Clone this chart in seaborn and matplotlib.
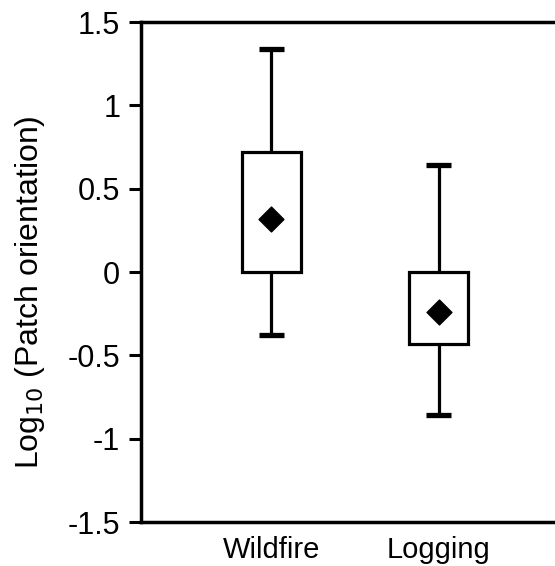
import numpy as np
import pandas as pd
import matplotlib
matplotlib.use("Agg")
import matplotlib.pyplot as plt
import seaborn as sns

# values
groups = ["Wildfire", "Logging"]
whisker_low = [-0.38, -0.86]
q1 = [0.0, -0.43]
q3 = [0.72, 0.0]
whisker_high = [1.34, 0.64]
means = [0.32, -0.24]

# five points per group give exactly these quartiles / extremes
rows = []
for g, lo, a, b, hi in zip(groups, whisker_low, q1, q3, whisker_high):
    for v in [lo, a, (a + b) / 2, b, hi]:
        rows.append({"group": g, "value": v})
df = pd.DataFrame(rows)
df_mean = pd.DataFrame({"group": groups, "value": means})

sns.set_style("white")
plt.rcParams["font.family"] = ["Liberation Sans", "DejaVu Sans"]
plt.rcParams["text.color"] = "black"
plt.rcParams["axes.labelcolor"] = "black"
plt.rcParams["xtick.color"] = "black"
plt.rcParams["ytick.color"] = "black"

fig = plt.figure(figsize=(5.55, 5.66), dpi=100)
ax = fig.add_axes([141 / 555, 44 / 566, 1 - 141 / 555 + 0.01, 500 / 566])

lw = 2.3
sns.boxplot(data=df, x="group", y="value", order=groups, whis=(0, 100),
            width=0.35, color="white", linewidth=lw, ax=ax,
            boxprops=dict(edgecolor="black", facecolor="white", linewidth=lw),
            whiskerprops=dict(color="black", linewidth=lw),
            capprops=dict(color="black", linewidth=3.8, solid_capstyle="butt"),
            medianprops=dict(linewidth=0, alpha=0),
            showfliers=False)

# caps narrower than the box
cap_half = 12 / 165
ends = whisker_low + whisker_high
for line in ax.get_lines():
    xd = np.asarray(line.get_xdata(), dtype=float)
    yd = np.asarray(line.get_ydata(), dtype=float)
    if len(xd) == 2 and np.isclose(yd[0], yd[1]) and not np.isclose(xd[0], xd[1]):
        if np.any(np.isclose(yd[0], ends)):
            c = xd.mean()
            line.set_data([c - cap_half, c + cap_half], yd)
            line.set_solid_capstyle("butt")

sns.scatterplot(data=df_mean, x="group", y="value", marker="D", s=160,
                color="black", edgecolor="black", ax=ax, zorder=5)

ax.set_ylim(-1.5, 1.5)
ax.set_xlim(-0.78, 1.73)
yt = [-1.5, -1, -0.5, 0, 0.5, 1, 1.5]
ax.set_yticks(yt)
ax.set_yticklabels(["-1.5", "-1", "-0.5", "0", "0.5", "1", "1.5"], fontsize=22)
ax.set_xticks([0, 1])
ax.set_xticklabels(groups, fontsize=21)
ax.tick_params(axis="y", direction="out", length=9, width=2.2, left=True, pad=6)
ax.tick_params(axis="x", length=0, pad=10)
ax.set_xlabel("")
ax.set_ylabel(r"Log$_{10}$ (Patch orientation)", fontsize=23)
ax.yaxis.set_label_coords(-0.223, 0.46)
for side in ["left", "top", "bottom", "right"]:
    ax.spines[side].set_visible(True)
    ax.spines[side].set_linewidth(2.5)
    ax.spines[side].set_color("black")

fig.savefig("out.png", dpi=100)
